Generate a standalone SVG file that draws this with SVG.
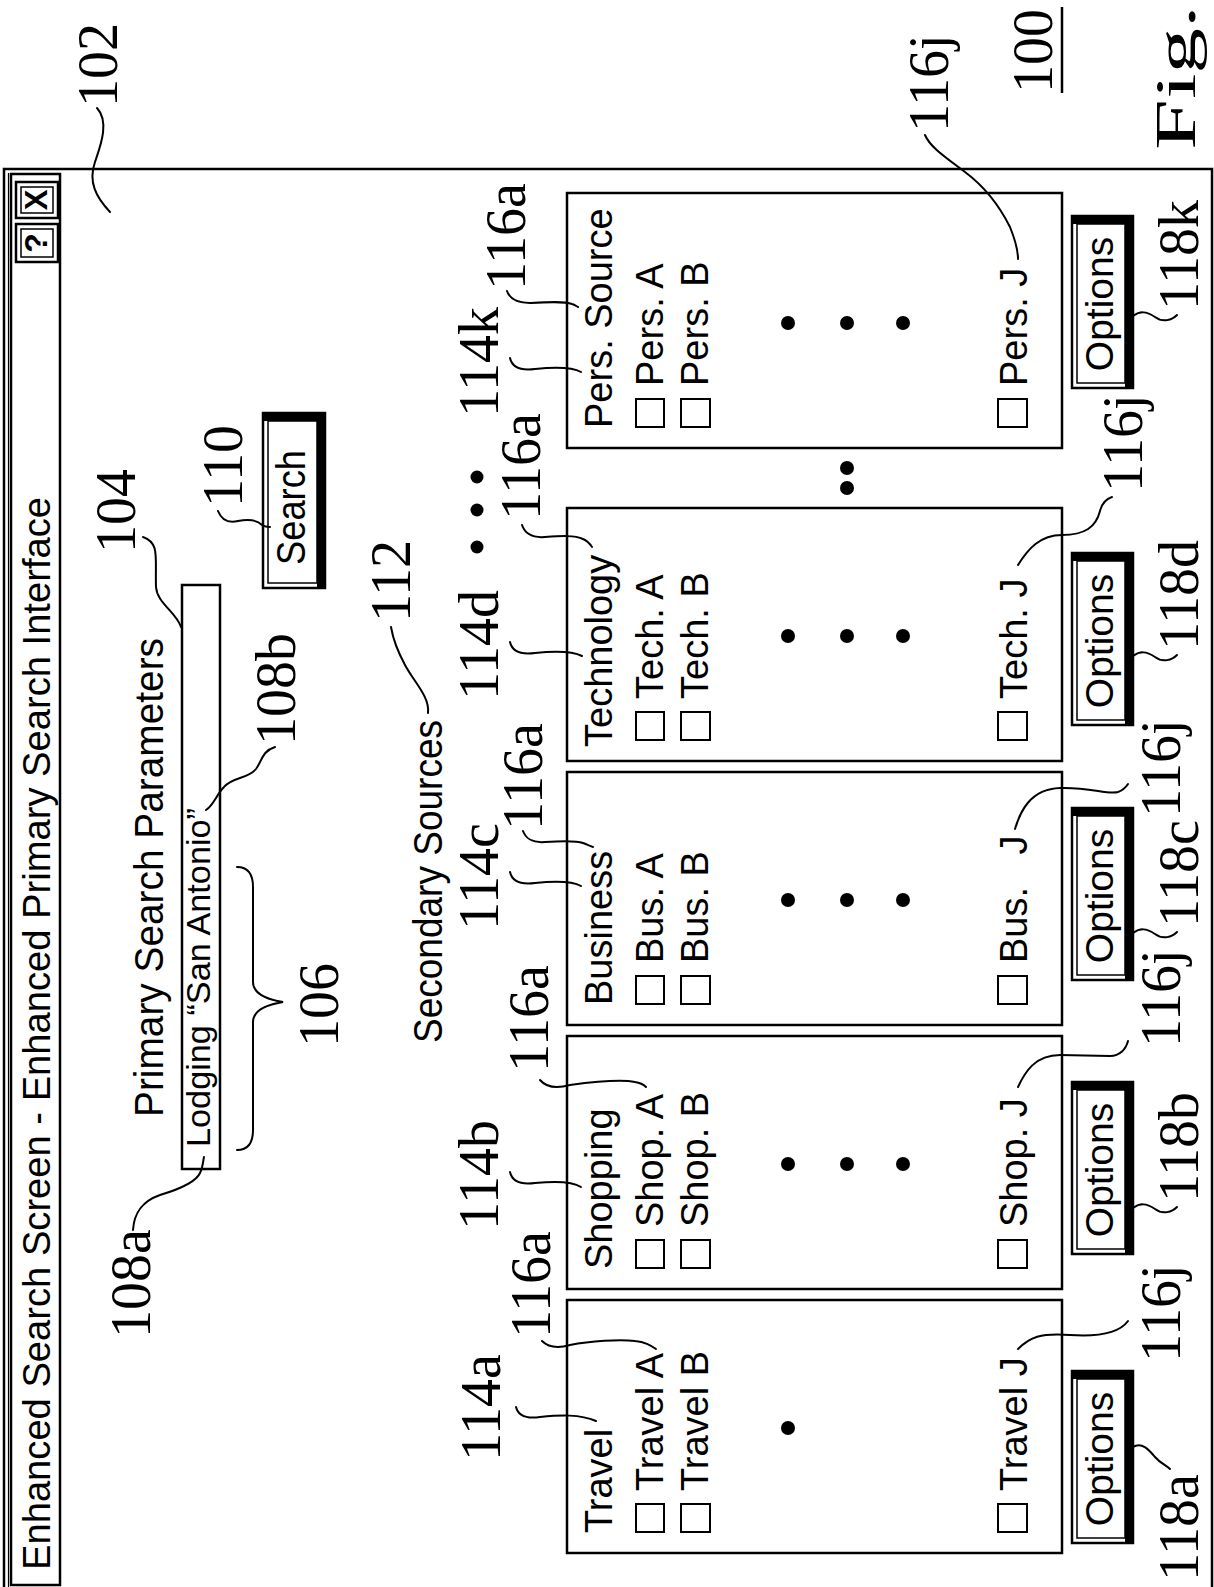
<svg xmlns="http://www.w3.org/2000/svg" width="1214" height="1587" viewBox="0 0 1214 1587">
<style>
.s{font-family:"Liberation Sans",Arial,Helvetica,sans-serif;fill:#000}
.t{font-size:38px}
.n{font-family:"Liberation Serif","Times New Roman",serif;font-size:56px;fill:#000}
.ln{fill:none;stroke:#000;stroke-width:2;stroke-linecap:round}
.fr{fill:none;stroke:#000;stroke-width:2.5}
.in{fill:none;stroke:#000;stroke-width:1.5}
.cb{fill:#fff;stroke:#000;stroke-width:2}
.k{fill:#000}
</style>
<rect width="1214" height="1587" fill="#fff"/>
<g transform="translate(0,1587) rotate(-90)">
 <g id="window">
  <rect x="-10" y="4" width="1428" height="1208" class="fr"/>
  <line x1="-10" y1="8.5" x2="1414" y2="8.5" stroke="#000" stroke-width="1.2"/>
 </g>
 <g id="titlebar">
  <rect x="2" y="11" width="1411" height="49" class="fr"/>
  <text class="s" x="17" y="50" font-size="38" textLength="1073" lengthAdjust="spacingAndGlyphs">Enhanced Search Screen - Enhanced Primary Search Interface</text>
 </g>
 <g id="help-button">
  <rect x="1325" y="16" width="38" height="42" class="fr" stroke-width="2"/>
  <rect x="1330" y="21" width="28" height="32" class="in"/>
  <text class="s" x="1344" y="47" font-size="32" font-weight="bold" text-anchor="middle">?</text>
 </g>
 <g id="close-button">
  <rect x="1369" y="16" width="36" height="42" class="fr" stroke-width="2"/>
  <rect x="1374" y="21" width="26" height="32" class="in"/>
  <text class="s" x="1387" y="47" font-size="31" font-weight="bold" text-anchor="middle">X</text>
 </g>

 <g id="primary-search-parameters">
  <text class="s" x="470" y="163" font-size="40" textLength="479" lengthAdjust="spacingAndGlyphs">Primary Search Parameters</text>
 </g>
 <g id="search-field">
  <rect x="418" y="182" width="584" height="38" class="fr" stroke-width="2"/>
  <text class="s" x="440" y="210" font-size="34" textLength="339" lengthAdjust="spacingAndGlyphs">Lodging “San Antonio”</text>
 </g>
 <g id="search-button" transform="translate(999,263)">
  <rect x="0" y="0" width="175" height="62" class="fr" stroke-width="2"/>
  <rect x="5" y="5" width="162" height="49" class="in"/>
  <rect x="0" y="54" width="175" height="8" class="k"/>
  <rect x="167" y="0" width="8" height="62" class="k"/>
  <text class="s" x="23" y="42" font-size="40" textLength="115" lengthAdjust="spacingAndGlyphs">Search</text>
 </g>
 <g id="secondary-sources">
  <text class="s" x="544" y="442" font-size="40" textLength="323" lengthAdjust="spacingAndGlyphs">Secondary Sources</text>
 </g>

 <g id="panel-travel" transform="translate(34,0)">
  <rect x="0" y="567" width="253" height="495" class="fr"/>
  <text class="s t" x="20" y="612">Travel</text>
  <rect class="cb" x="21" y="636" width="28" height="28"/>
  <text class="s t" x="62" y="663">Travel A</text>
  <rect class="cb" x="21" y="681" width="28" height="29"/>
  <text class="s t" x="62" y="708">Travel B</text>
  <circle class="k" cx="125" cy="788" r="7"/>
  <rect class="cb" x="21" y="998" width="28" height="29"/>
  <text class="s t" x="62" y="1027">Travel J</text>
 </g>
 <g id="panel-shopping" transform="translate(298,0)">
  <rect x="0" y="567" width="253" height="495" class="fr"/>
  <text class="s t" x="20" y="612">Shopping</text>
  <rect class="cb" x="21" y="636" width="28" height="28"/>
  <text class="s t" x="62" y="663">Shop. A</text>
  <rect class="cb" x="21" y="681" width="28" height="29"/>
  <text class="s t" x="62" y="708">Shop. B</text>
  <circle class="k" cx="125" cy="788" r="7"/>
  <circle class="k" cx="125" cy="847" r="7"/>
  <circle class="k" cx="125" cy="903" r="7"/>
  <rect class="cb" x="21" y="998" width="28" height="29"/>
  <text class="s t" x="62" y="1027">Shop. J</text>
 </g>
 <g id="panel-business" transform="translate(562,0)">
  <rect x="0" y="567" width="253" height="495" class="fr"/>
  <text class="s t" x="20" y="612">Business</text>
  <rect class="cb" x="21" y="636" width="28" height="28"/>
  <text class="s t" x="62" y="663">Bus. A</text>
  <rect class="cb" x="21" y="681" width="28" height="29"/>
  <text class="s t" x="62" y="708">Bus. B</text>
  <circle class="k" cx="125" cy="788" r="7"/>
  <circle class="k" cx="125" cy="847" r="7"/>
  <circle class="k" cx="125" cy="903" r="7"/>
  <rect class="cb" x="21" y="998" width="28" height="29"/>
  <text class="s t" x="62" y="1027" word-spacing="22">Bus. J</text>
 </g>
 <g id="panel-technology" transform="translate(826,0)">
  <rect x="0" y="567" width="253" height="495" class="fr"/>
  <text class="s t" x="14" y="612">Technology</text>
  <rect class="cb" x="21" y="636" width="28" height="28"/>
  <text class="s t" x="62" y="663">Tech. A</text>
  <rect class="cb" x="21" y="681" width="28" height="29"/>
  <text class="s t" x="62" y="708">Tech. B</text>
  <circle class="k" cx="125" cy="788" r="7"/>
  <circle class="k" cx="125" cy="847" r="7"/>
  <circle class="k" cx="125" cy="903" r="7"/>
  <rect class="cb" x="21" y="998" width="28" height="29"/>
  <text class="s t" x="62" y="1027">Tech. J</text>
 </g>
 <g id="panel-pers-source" transform="translate(1139,0)">
  <rect x="0" y="567" width="255" height="495" class="fr"/>
  <text class="s t" x="20" y="612">Pers. Source</text>
  <rect class="cb" x="21" y="636" width="28" height="28"/>
  <text class="s t" x="62" y="663">Pers. A</text>
  <rect class="cb" x="21" y="681" width="28" height="29"/>
  <text class="s t" x="62" y="708">Pers. B</text>
  <circle class="k" cx="125" cy="788" r="7"/>
  <circle class="k" cx="125" cy="847" r="7"/>
  <circle class="k" cx="125" cy="903" r="7"/>
  <rect class="cb" x="21" y="998" width="28" height="29"/>
  <text class="s t" x="62" y="1027">Pers. J</text>
 </g>
 <g id="panel-ellipsis">
  <circle class="k" cx="1099" cy="847" r="7"/>
  <circle class="k" cx="1119" cy="847" r="7"/>
  <circle class="k" cx="1040" cy="477" r="6.5"/>
  <circle class="k" cx="1077" cy="477" r="6.5"/>
  <circle class="k" cx="1110" cy="477" r="6.5"/>
 </g>

 <g id="options-travel" transform="translate(44,1072)">
  <rect x="0" y="0" width="172" height="61" class="fr" stroke-width="2"/>
  <rect x="5" y="5" width="159" height="48" class="in"/>
  <rect x="0" y="53" width="172" height="8" class="k"/>
  <rect x="164" y="0" width="8" height="61" class="k"/>
  <text class="s" x="84" y="41" font-size="39" text-anchor="middle">Options</text>
 </g>
 <g id="options-shopping" transform="translate(333,1072)">
  <rect x="0" y="0" width="172" height="61" class="fr" stroke-width="2"/>
  <rect x="5" y="5" width="159" height="48" class="in"/>
  <rect x="0" y="53" width="172" height="8" class="k"/>
  <rect x="164" y="0" width="8" height="61" class="k"/>
  <text class="s" x="84" y="41" font-size="39" text-anchor="middle">Options</text>
 </g>
 <g id="options-business" transform="translate(607,1072)">
  <rect x="0" y="0" width="172" height="61" class="fr" stroke-width="2"/>
  <rect x="5" y="5" width="159" height="48" class="in"/>
  <rect x="0" y="53" width="172" height="8" class="k"/>
  <rect x="164" y="0" width="8" height="61" class="k"/>
  <text class="s" x="84" y="41" font-size="39" text-anchor="middle">Options</text>
 </g>
 <g id="options-technology" transform="translate(862,1072)">
  <rect x="0" y="0" width="172" height="61" class="fr" stroke-width="2"/>
  <rect x="5" y="5" width="159" height="48" class="in"/>
  <rect x="0" y="53" width="172" height="8" class="k"/>
  <rect x="164" y="0" width="8" height="61" class="k"/>
  <text class="s" x="84" y="41" font-size="39" text-anchor="middle">Options</text>
 </g>
 <g id="options-pers-source" transform="translate(1199,1072)">
  <rect x="0" y="0" width="172" height="61" class="fr" stroke-width="2"/>
  <rect x="5" y="5" width="159" height="48" class="in"/>
  <rect x="0" y="53" width="172" height="8" class="k"/>
  <rect x="164" y="0" width="8" height="61" class="k"/>
  <text class="s" x="84" y="41" font-size="39" text-anchor="middle">Options</text>
 </g>

 <g id="connectors">
  <path class="ln" d="M1479,97 C1465,110 1440,100 1425,95 C1405,88 1390,96 1375,110"/>
  <path class="ln" d="M1050,143 C1044,160 1030,155 1000,156 C984,157 975,176 960,181"/>
  <path class="ln" d="M1076,218 C1066,222 1064,230 1066,238 C1068,248 1068,256 1062,262 C1060,265 1060,268 1060,270"/>
  <path class="ln" d="M840,275 C836,262 826,262 818,256 C808,248 810,232 800,224 C792,216 782,214 777,206"/>
  <path class="ln" d="M357,133 C372,134 385,140 392,160 C398,180 405,196 414,200 C420,203 426,203 430,204"/>
  <path class="ln" d="M437,237 Q437,253 457,253 L565,253 Q580,253 585,283 Q590,253 605,253 L700,253 Q720,253 720,237"/>
  <path class="ln" d="M874,428 C890,430 905,414 922,405 C935,398 948,393 960,391"/>
  <path class="ln" d="M180,516 C172,518 168,526 170,540 C172,560 173,580 166,596"/>
  <path class="ln" d="M246,542 C240,548 238,556 242,570 C246,590 248,620 246,635 C245,645 242,650 238,656"/>
  <path class="ln" d="M415,510 C406,512 402,520 404,535 C406,555 406,572 400,581"/>
  <path class="ln" d="M507,540 C500,546 498,556 502,570 C506,600 507,625 505,635 C504,642 502,644 500,646"/>
  <path class="ln" d="M715,510 C706,512 702,520 704,535 C706,555 706,572 701,581"/>
  <path class="ln" d="M756,523 C748,526 744,532 745,545 C746,560 747,575 744,583 C742,588 741,590 740,593"/>
  <path class="ln" d="M945,510 C936,512 932,520 934,535 C936,555 936,572 931,582"/>
  <path class="ln" d="M1062,522 C1053,525 1049,532 1050,545 C1051,560 1052,575 1048,583 C1046,588 1043,590 1040,592"/>
  <path class="ln" d="M1229,510 C1220,512 1216,520 1218,535 C1220,555 1220,572 1215,581"/>
  <path class="ln" d="M1296,507 C1287,510 1284,518 1284,530 C1285,548 1286,565 1283,572 C1282,575 1281,576 1280,578"/>
  <path class="ln" d="M238,1018 C250,1030 254,1040 252,1070 C250,1100 255,1120 266,1128"/>
  <path class="ln" d="M500,1018 C515,1025 532,1035 532,1060 L531,1110 C531,1120 538,1126 546,1128"/>
  <path class="ln" d="M758,1015 C775,1020 798,1030 799,1060 C800,1090 792,1108 795,1118 C797,1124 800,1126 803,1128"/>
  <path class="ln" d="M1022,1018 C1038,1028 1052,1040 1052,1062 C1052,1085 1060,1096 1076,1100 C1084,1102 1088,1106 1090,1112"/>
  <path class="ln" d="M1452,925 C1440,930 1430,945 1415,965 C1400,985 1380,1000 1360,1010 C1345,1016 1335,1018 1328,1018"/>
  <path class="ln" d="M140,1133 C146,1142 136,1150 130,1155 C124,1160 122,1166 118,1170"/>
  <path class="ln" d="M379,1133 C384,1140 384,1146 378,1155 C372,1163 375,1172 380,1177"/>
  <path class="ln" d="M654,1133 C659,1140 659,1146 653,1155 C647,1163 650,1172 655,1177"/>
  <path class="ln" d="M931,1133 C936,1140 936,1146 930,1155 C924,1163 927,1172 932,1177"/>
  <path class="ln" d="M1271,1133 C1276,1140 1276,1146 1270,1155 C1264,1163 1267,1172 1272,1177"/>
 </g>

 <g id="reference-labels">
  <text class="n" x="1480" y="117">102</text>
  <text class="n" x="1034" y="135">104</text>
  <text class="n" x="1080" y="242">110</text>
  <text class="n" x="842" y="295">108b</text>
  <text class="n" x="540" y="338">106</text>
  <text class="n" x="249" y="150">108a</text>
  <text class="n" x="965" y="410">112</text>
  <text class="n" x="126" y="500">114a</text>
  <text class="n" x="249" y="550">116a</text>
  <text class="n" x="357" y="498">114b</text>
  <text class="n" x="515" y="548">116a</text>
  <text class="n" x="657" y="498">114c</text>
  <text class="n" x="757" y="542">116a</text>
  <text class="n" x="887" y="498">114d</text>
  <text class="n" x="1067" y="540">116a</text>
  <text class="n" x="1170" y="498">114k</text>
  <text class="n" x="1297" y="525">116a</text>
  <text class="n" x="1455" y="948">116j</text>
  <text class="n" x="1494" y="1052">100</text>
  <line x1="1494" y1="1062" x2="1580" y2="1062" stroke="#000" stroke-width="2.5"/>
  <text class="n" x="1437" y="1195" font-size="120" textLength="145" lengthAdjust="spacingAndGlyphs">Fig.</text>
  <text class="n" x="6" y="1198">118a</text>
  <text class="n" x="225" y="1180">116j</text>
  <text class="n" x="385" y="1198">118b</text>
  <text class="n" x="540" y="1180">116j</text>
  <text class="n" x="660" y="1198">118c</text>
  <text class="n" x="770" y="1180">116j</text>
  <text class="n" x="937" y="1198">118d</text>
  <text class="n" x="1095" y="1142">116j</text>
  <text class="n" x="1277" y="1198">118k</text>
 </g>
</g>
</svg>
